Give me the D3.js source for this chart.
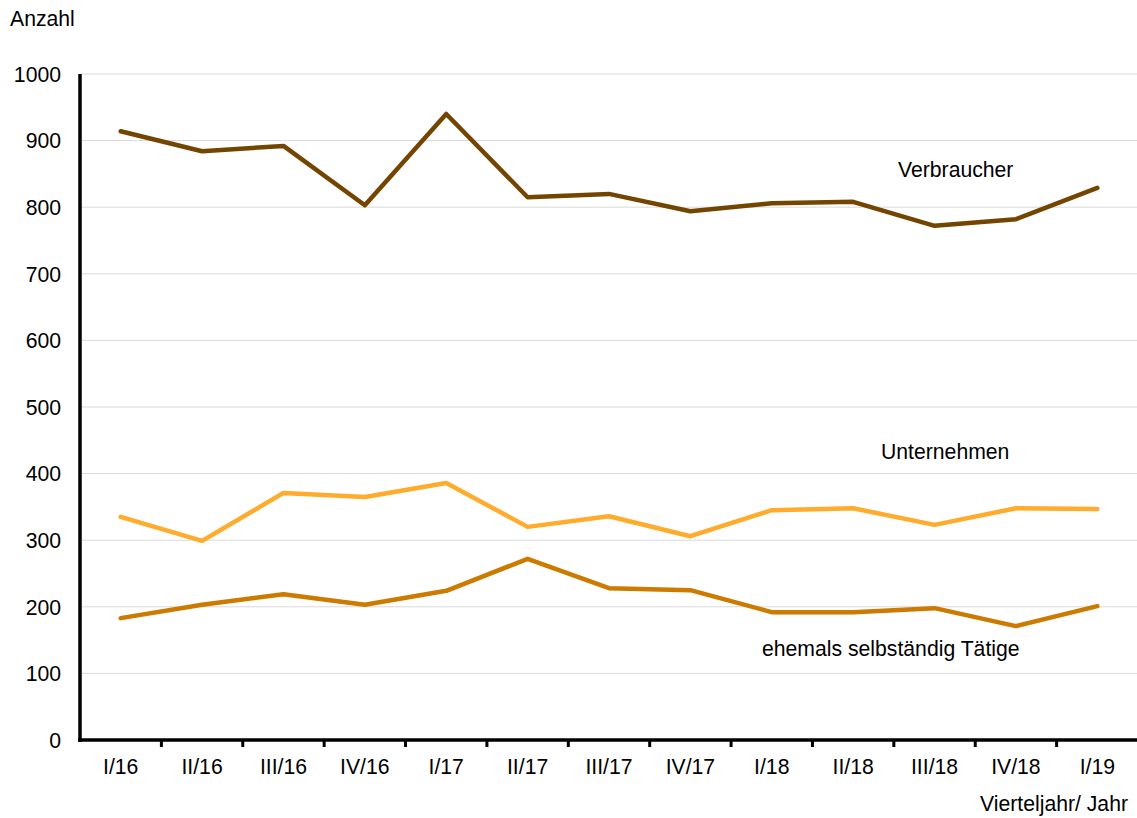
<!DOCTYPE html>
<html><head><meta charset="utf-8">
<script src="https://cdn.jsdelivr.net/npm/d3@7"></script>
<style>body{margin:0;background:#fff}svg{display:block;font-family:"Liberation Sans",Arial,sans-serif}</style>
</head><body>
<svg id="c" width="1137" height="818"></svg>
<script>
const categories = ["I/16","II/16","III/16","IV/16","I/17","II/17","III/17","IV/17","I/18","II/18","III/18","IV/18","I/19"];
const verbraucher = [914,884,892,803,940,815,820,794,806,808,772,782,829];
const unternehmen = [335,299,371,365,386,320,336,306,345,348,323,348,347];
const ehemals = [183,203,219,203,224,272,228,225,192,192,198,171,201];
const yTicks = [0,100,200,300,400,500,600,700,800,900,1000];
const seriesLabels = ["Verbraucher","Unternehmen","ehemals selbständig Tätige"];

const svg = d3.select("#c");
const x = d3.scaleBand().domain(categories).range([80,1138]);
const y = d3.scaleLinear().domain([0,1000]).range([740,74]);
const fs = 21.2;

// gridlines
svg.append("g").selectAll("line").data(yTicks.filter(d=>d>0)).join("line")
  .attr("x1",80).attr("x2",1137).attr("y1",d=>y(d)).attr("y2",d=>y(d))
  .attr("stroke","#d9d9d9").attr("stroke-width",1);

// y axis labels
svg.append("g").selectAll("text").data(yTicks).join("text")
  .attr("x",61).attr("y",d=>y(d)+7.7).attr("text-anchor","end")
  .attr("font-size",fs).attr("fill","#000").text(d=>d);

// x labels
svg.append("g").selectAll("text").data(categories).join("text")
  .attr("x",d=>x(d)+x.bandwidth()/2).attr("y",774).attr("text-anchor","middle")
  .attr("font-size",fs).attr("fill","#000").text(d=>d);

// x tick marks
svg.append("g").selectAll("line").data(categories.slice(1)).join("line")
  .attr("x1",d=>x(d)).attr("x2",d=>x(d)).attr("y1",740).attr("y2",747)
  .attr("stroke","#000").attr("stroke-width",3);

// axes lines
svg.append("line").attr("x1",80).attr("x2",80).attr("y1",74).attr("y2",742)
  .attr("stroke","#000").attr("stroke-width",3.5);
svg.append("line").attr("x1",78).attr("x2",1137).attr("y1",740).attr("y2",740)
  .attr("stroke","#000").attr("stroke-width",3.5);

const line = d3.line().x((d,i)=>x(categories[i])+x.bandwidth()/2).y(d=>y(d));
const series = [
  {data:ehemals,color:"#cc7a00"},
  {data:unternehmen,color:"#ffab2b"},
  {data:verbraucher,color:"#744500"}
];
series.forEach(s=>{
  svg.append("path").attr("d",line(s.data)).attr("fill","none")
    .attr("stroke",s.color).attr("stroke-width",4.5).attr("stroke-linejoin","round").attr("stroke-linecap","round");
});

// titles
svg.append("text").attr("x",10).attr("y",26).attr("font-size",fs).text("Anzahl");
svg.append("text").attr("x",1128).attr("y",811).attr("text-anchor","end").attr("font-size",fs).text("Vierteljahr/ Jahr");

// series labels
svg.append("text").attr("x",898).attr("y",177).attr("font-size",fs).text(seriesLabels[0]);
svg.append("text").attr("x",881).attr("y",459).attr("font-size",fs).text(seriesLabels[1]);
svg.append("text").attr("x",762).attr("y",656).attr("font-size",fs).text(seriesLabels[2]);
</script>
</body></html>
